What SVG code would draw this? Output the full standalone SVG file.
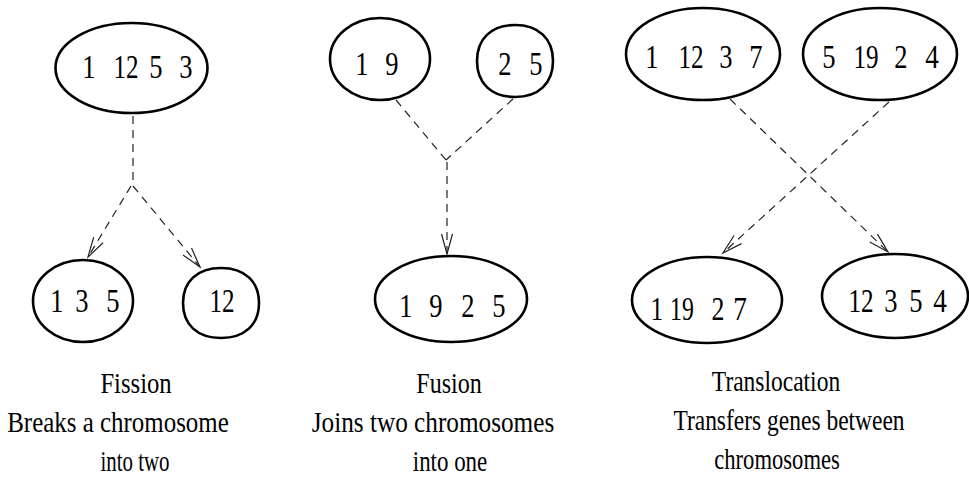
<svg xmlns="http://www.w3.org/2000/svg" width="969" height="490" viewBox="0 0 969 490">
<style>
.node{fill:none;stroke:#000;stroke-width:2.6}
.num{font-family:"Liberation Serif","Times New Roman",serif;font-size:34px;fill:#000;text-anchor:middle}
.lab{font-family:"Liberation Serif","Times New Roman",serif;font-size:29px;fill:#000;text-anchor:middle}
.conn{fill:none;stroke:#222;stroke-width:1.2;stroke-dasharray:8 6}
</style>
<defs>
<marker id="arr" markerUnits="userSpaceOnUse" markerWidth="24" markerHeight="14" refX="20" refY="5.5" orient="auto" overflow="visible">
<path d="M0,0 L20,5.5 L0,11" fill="none" stroke="#222" stroke-width="1.2" stroke-dasharray="none"/>
</marker>
</defs>
<rect width="969" height="490" fill="#fff"/>

<g id="connectors">
<line class="conn" x1="133" y1="116" x2="133" y2="183"/>
<line class="conn" x1="131" y1="186" x2="88" y2="257" marker-end="url(#arr)"/>
<line class="conn" x1="133" y1="186" x2="200" y2="267" marker-end="url(#arr)"/>
<line class="conn" x1="396" y1="100" x2="446" y2="160"/>
<line class="conn" x1="513" y1="99" x2="446" y2="160"/>
<line class="conn" x1="447" y1="162" x2="447" y2="254" marker-end="url(#arr)"/>
<line class="conn" x1="730" y1="99" x2="888" y2="252" marker-end="url(#arr)"/>
<line class="conn" x1="889" y1="102" x2="723" y2="253" marker-end="url(#arr)"/>
</g>

<g id="fission-top">
<ellipse class="node" cx="131.5" cy="68" rx="76" ry="45"/>
<text class="num" transform="translate(89 78) scale(0.78 1)">1</text>
<text class="num" transform="translate(126 78) scale(0.74 1)">12</text>
<text class="num" transform="translate(156 78) scale(0.78 1)">5</text>
<text class="num" transform="translate(186 78) scale(0.78 1)">3</text>
</g>
<g id="fission-left">
<ellipse class="node" cx="83" cy="301" rx="50" ry="41"/>
<text class="num" transform="translate(57 312) scale(0.78 1)">1</text>
<text class="num" transform="translate(82 312) scale(0.78 1)">3</text>
<text class="num" transform="translate(113 312) scale(0.78 1)">5</text>
</g>
<g id="fission-right">
<path class="node" d="M259,303 C259,324.7 244.6,338 221,338 C197.4,338 183,324.7 183,303 C183,281.3 197.4,268 221,268 C244.6,268 259,281.3 259,303 Z"/>
<text class="num" transform="translate(222 312) scale(0.74 1)">12</text>
</g>

<g id="fusion-left">
<ellipse class="node" cx="380" cy="59" rx="50" ry="41"/>
<text class="num" transform="translate(362 75) scale(0.78 1)">1</text>
<text class="num" transform="translate(392 75) scale(0.78 1)">9</text>
</g>
<g id="fusion-right">
<path class="node" d="M553,61 C553,83.3 538.6,97 515,97 C491.4,97 477,83.3 477,61 C477,38.7 491.4,25 515,25 C538.6,25 553,38.7 553,61 Z"/>
<text class="num" transform="translate(505 75) scale(0.78 1)">2</text>
<text class="num" transform="translate(536 75) scale(0.78 1)">5</text>
</g>
<g id="fusion-bottom">
<ellipse class="node" cx="451" cy="299" rx="76" ry="43"/>
<text class="num" transform="translate(406 317) scale(0.78 1)">1</text>
<text class="num" transform="translate(436 317) scale(0.78 1)">9</text>
<text class="num" transform="translate(468 317) scale(0.78 1)">2</text>
<text class="num" transform="translate(499 317) scale(0.78 1)">5</text>
</g>

<g id="trans-top-left">
<ellipse class="node" cx="703" cy="54" rx="77" ry="46"/>
<text class="num" transform="translate(652 68) scale(0.78 1)">1</text>
<text class="num" transform="translate(691 68) scale(0.74 1)">12</text>
<text class="num" transform="translate(726 68) scale(0.78 1)">3</text>
<text class="num" transform="translate(756 68) scale(0.78 1)">7</text>
</g>
<g id="trans-top-right">
<ellipse class="node" cx="880" cy="54" rx="77" ry="46"/>
<text class="num" transform="translate(829 68) scale(0.78 1)">5</text>
<text class="num" transform="translate(866 68) scale(0.74 1)">19</text>
<text class="num" transform="translate(901 68) scale(0.78 1)">2</text>
<text class="num" transform="translate(932 68) scale(0.8 1)">4</text>
</g>
<g id="trans-bottom-left">
<ellipse class="node" cx="707" cy="300" rx="75" ry="43"/>
<text class="num" transform="translate(657 320) scale(0.75 1)">1</text>
<text class="num" transform="translate(682 320) scale(0.7 1)">19</text>
<text class="num" transform="translate(718 320) scale(0.76 1)">2</text>
<text class="num" transform="translate(740 320) scale(0.8 1)">7</text>
</g>
<g id="trans-bottom-right">
<ellipse class="node" cx="895" cy="296" rx="73" ry="42"/>
<text class="num" transform="translate(861 312) scale(0.74 1)">12</text>
<text class="num" transform="translate(891 312) scale(0.78 1)">3</text>
<text class="num" transform="translate(916 312) scale(0.78 1)">5</text>
<text class="num" transform="translate(940 312) scale(0.8 1)">4</text>
</g>

<g id="labels">
<text class="lab" transform="translate(136 393) scale(0.85 1)">Fission</text>
<text class="lab" transform="translate(118 432) scale(0.86 1)">Breaks a chromosome</text>
<text class="lab" transform="translate(135 471) scale(0.72 1)">into two</text>
<text class="lab" transform="translate(449 393) scale(0.83 1)">Fusion</text>
<text class="lab" transform="translate(433 432) scale(0.87 1)">Joins two chromosomes</text>
<text class="lab" transform="translate(450 471) scale(0.79 1)">into one</text>
<text class="lab" transform="translate(776 391) scale(0.81 1)">Translocation</text>
<text class="lab" transform="translate(789 430) scale(0.81 1)">Transfers genes between</text>
<text class="lab" transform="translate(777 469) scale(0.78 1)">chromosomes</text>
</g>
</svg>
